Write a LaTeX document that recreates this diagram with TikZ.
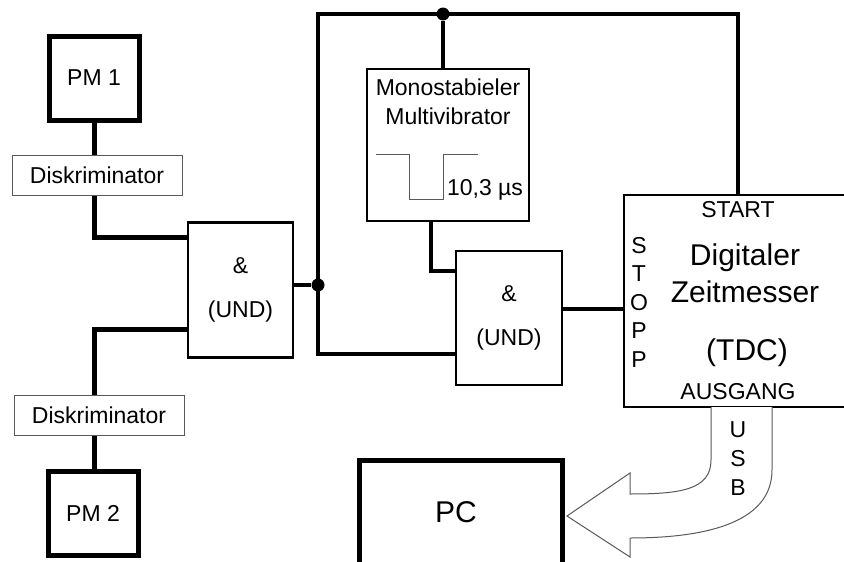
\documentclass[tikz,border=0pt]{standalone}
\usepackage{fontspec}
\setmainfont{Liberation Sans}

\tikzset{
  txt/.style={font=\fontsize{23}{28}\selectfont, inner sep=0pt},
  bigtxt/.style={font=\fontsize{30}{37}\selectfont, inner sep=0pt},
  pmbox/.style={txt, draw, line width=5pt, minimum width=90pt, minimum height=84pt},
  diskbox/.style={txt, draw=black!65, line width=1pt, minimum width=170pt, minimum height=40pt},
  undbox/.style={txt, draw, line width=2.6pt, minimum width=105pt, minimum height=135pt,
    align=center, font=\fontsize{23}{44}\selectfont},
  blockbox/.style={draw, line width=2pt, inner sep=0pt},
  heavywire/.style={line width=5pt},
  wire/.style={line width=3.5pt},
  thinline/.style={draw=black!65, line width=1pt},
  junction/.style={circle, fill, inner sep=0pt, minimum size=13pt}
}

\begin{document}
\begin{tikzpicture}[x=1pt, y=-1pt]
  \useasboundingbox (0,0) rectangle (844,562);

  % Photomultiplier und Diskriminatoren
  \node[pmbox] (pmA) at (94,78) {PM 1};
  \node[diskbox] (diskA) at (97,175) {Diskriminator};
  \node[diskbox] (diskB) at (99,415) {Diskriminator};
  \node[pmbox] (pmB) at (93,513) {PM 2};

  % Koinzidenzstufen
  \node[undbox] (undA) at (240.5,290) {\&\\(UND)};
  \node[undbox, minimum width=106pt, minimum height=134pt] (undB) at (509,318) {\&\\(UND)};

  % Monoflop
  \node[blockbox, minimum width=162pt, minimum height=152pt] (mono) at (448,145) {};
  \node[txt, align=center, font=\fontsize{23}{29}\selectfont] (monolbl) at (448,102)
    {Monostabieler\\Multivibrator};
  \draw[thinline] (376,154) -- (409,154) -- (409,199) -- (443,199) -- (443,154) -- (478,154);
  \node[txt] (pulse) at (485,190) {10,3 µs};

  % TDC
  \node[blockbox, minimum width=240pt, minimum height=212pt] (tdc) at (744,301) {};
  \node[txt] (start) at (738,210) {START};
  \node[bigtxt, align=center] (tdclbl) at (745,273) {Digitaler\\Zeitmesser};
  \node[bigtxt] (tdcname) at (747,353) {(TDC)};
  \node[txt] (ausgang) at (738,392) {AUSGANG};
  \node[txt, align=center, font=\fontsize{23}{28.5}\selectfont] (stopp) at (639,302)
    {S\\T\\O\\P\\P};

  % PC
  \node[draw, line width=5pt, minimum width=203pt, minimum height=200pt] (pc) at (461,560) {};
  \node[bigtxt] (pclbl) at (456,512) {PC};

  % Hilfspunkte
  \coordinate (inUa) at (188,237);
  \coordinate (inUb) at (188,329);
  \coordinate (busTL) at (318,14);
  \coordinate (busBL) at (318,354);
  \coordinate (busTR) at (738,14);
  \coordinate (monoOut) at (431,221);
  \coordinate (inBa) at (456,271);
  \coordinate (stopIn) at (624,309);
  \node[junction] (dotTop) at (443,14) {};
  \node[junction] (dotMid) at (318,285) {};

  % Signalwege
  \draw[heavywire] (pmA.south) -- (diskA.north -| pmA.south);
  \draw[heavywire] (diskA.south -| pmA.south) |- (inUa);
  \draw[heavywire] (inUb) -| (diskB.north -| pmA.south);
  \draw[heavywire] (diskB.south -| pmA.south) -- (pmB.north -| pmA.south);
  \draw[wire] (undA.east |- dotMid) -- (dotMid);
  \draw[wire] (undB.west |- busBL) -- (busBL) -- (busTL) -- (busTR) -- (tdc.north -| busTR);
  \draw[wire] (dotTop) -- (mono.north -| dotTop);
  \draw[wire] (monoOut) |- (inBa);
  \draw[wire] (stopIn -| undB.east) -- (stopIn);

  % USB-Pfeil
  \draw[thinline, fill=white] (711,407) -- (711,460) .. controls (711,490) and (680,494) .. (630,494)
    -- (630,473) -- (567,516) -- (630,557) -- (630,538)
    .. controls (700,538) and (772,525) .. (772,470) -- (772,407);
  \node[txt, align=center, font=\fontsize{23}{29}\selectfont] (usb) at (738,459) {U\\S\\B};
\end{tikzpicture}
\end{document}
